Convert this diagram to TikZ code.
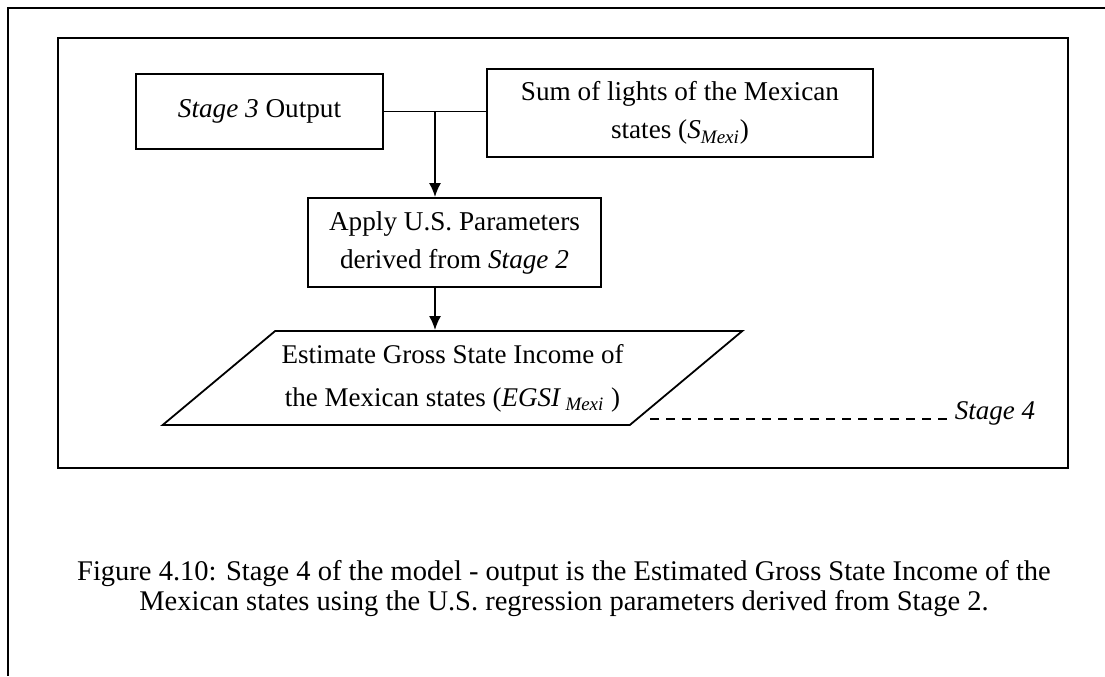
\documentclass[tikz,border=0pt]{standalone}
\usepackage{fontspec}
\setmainfont{Liberation Serif}
\usepackage{tikz}
\usetikzlibrary{shapes,arrows,arrows.meta,calc}
\tikzstyle{line} = [draw, -{Latex[length=7pt,width=6pt]}, line width=0.9pt]
\tikzstyle{frame} = [draw, line width=1.1pt]
\tikzstyle{block} = [draw, rectangle, text centered, align=center, inner sep=0pt, line width=0.9pt, font=\fontsize{13.6}{19}\selectfont]
\tikzstyle{io} = [draw, trapezium, trapezium left angle=32, trapezium right angle=148, trapezium stretches=true, text centered, align=center, inner sep=0pt, line width=0.9pt, font=\fontsize{13.5}{21.5}\selectfont]

\begin{document}
\begin{tikzpicture}[x=0.5pt, y=-0.5pt, auto]
        \useasboundingbox (0,0) rectangle (1105,676);
        \draw[frame] (1105,8) -- (8,8) -- (8,676);
        \draw[frame] (58,38) rectangle (1068,468);
        \node[block, minimum width=123.5pt, minimum height=37.5pt] (stagethree) at (259.5,111.5) {\textit{Stage 3} Output};
        \node[block, minimum width=193pt, minimum height=44pt] (sumlights) at (680,113) {Sum of lights of the Mexican\\states (\textit{S}\textsubscript{\textit{Mexi}})};
        \node[block, minimum width=146.5pt, minimum height=44.5pt] (apply) at (454.5,242.5) {Apply U.S. Parameters\\derived from \textit{Stage 2}};
        \node[io, minimum width=290.5pt, minimum height=47pt] (estimate) at (452.5,378) {Estimate Gross State Income of\\the Mexican states (\textit{EGSI}\,\textsubscript{\textit{Mexi}} )};
        \node[font=\fontsize{13.5}{16}\selectfont\itshape] (stagefour) at (995,413) {Stage 4};
        \node[align=center, font=\fontsize{14.25}{15}\selectfont] (caption) at (564,589) {Figure 4.10: Stage 4 of the model - output is the Estimated Gross State Income of the\\Mexican states using the U.S. regression parameters derived from Stage 2.};
        \coordinate (join) at (435,111);
        \coordinate (dashstart) at (650,419);
        \path[draw, line width=0.9pt] (stagethree.east) -- (sumlights.west |- stagethree.east);
        \path[line] (join) -- (join |- apply.north);
        \path[line] (join |- apply.south) -- (join |- estimate.north);
        \path[draw, dash pattern=on 4.5pt off 3.5pt, line width=0.7pt] (dashstart) -- (stagefour.west |- dashstart);
    \end{tikzpicture}
\end{document}
